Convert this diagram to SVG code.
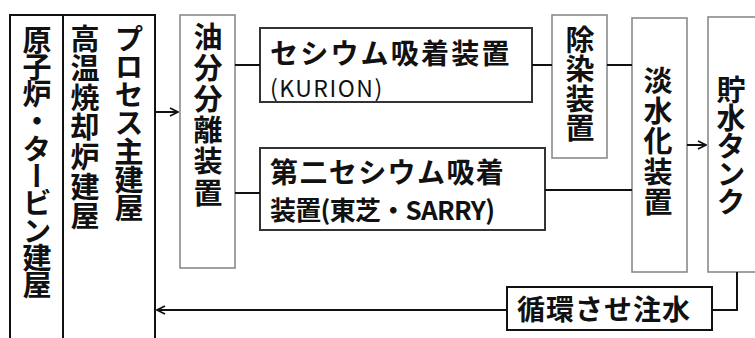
<svg xmlns="http://www.w3.org/2000/svg" width="755" height="338" viewBox="0 0 755 338">
<style>
.t{font-family:"Noto Sans CJK JP","Liberation Sans",sans-serif;fill:#111;font-weight:700}
.v{writing-mode:vertical-rl;text-orientation:upright;font-size:29px}
.r{font-weight:400}
.b{fill:#fff;stroke:#111;stroke-width:2}
.g{fill:#fff;stroke:#8a8a8a;stroke-width:1.6}
.c{fill:#fff;stroke:#333;stroke-width:2}
.ln{fill:none;stroke:#111;stroke-width:2}
</style>
<defs>
<marker id="ah" viewBox="0 0 10 10" refX="9" refY="5" markerWidth="10" markerHeight="10" markerUnits="userSpaceOnUse" orient="auto">
<path d="M1,1 L9,5 L1,9" fill="none" stroke="#111" stroke-width="1.8"/>
</marker>
</defs>
<rect width="755" height="338" fill="#fff"/>
<g id="reactor">
<rect class="b" x="10" y="15" width="53" height="330"/>
<text class="t v" x="37" y="25" style="letter-spacing:-1.7px">原子炉・タービン建屋</text>
</g>
<g id="process">
<rect class="b" x="63" y="15" width="92" height="330"/>
<text class="t v" x="85" y="24" style="letter-spacing:0.6px">高温焼却炉建屋</text>
<text class="t v" x="129" y="24" style="letter-spacing:-0.7px">プロセス主建屋</text>
</g>
<g id="oil">
<rect class="g" x="180" y="15" width="55" height="253"/>
<text class="t v" x="208" y="22" style="letter-spacing:2.2px">油分分離装置</text>
</g>
<g id="kurion">
<rect class="c" x="260" y="28" width="272" height="74"/>
<text class="t" x="270" y="64" font-size="28" style="letter-spacing:2.2px">セシウム吸着装置</text>
<text class="t r" x="270" y="97" font-size="23" style="letter-spacing:1.5px">(KURION)</text>
</g>
<g id="sarry">
<rect class="c" x="260" y="148" width="285" height="82"/>
<text class="t" x="270" y="183" font-size="28" style="letter-spacing:1.4px">第二セシウム吸着</text>
<text class="t" x="270" y="220" font-size="26" textLength="225" lengthAdjust="spacing">装置(東芝・SARRY)</text>
</g>
<g id="decon">
<rect class="g" x="552" y="15" width="55" height="143"/>
<text class="t v" x="580" y="25" style="letter-spacing:0.5px">除染装置</text>
</g>
<g id="desal">
<rect class="g" x="632" y="18" width="55" height="254"/>
<text class="t v" x="658" y="66" style="letter-spacing:1.4px">淡水化装置</text>
</g>
<g id="tank">
<rect class="g" x="708" y="17" width="60" height="255"/>
<text class="t v" x="731" y="75" style="letter-spacing:-1px">貯水タンク</text>
</g>
<g id="recirc">
<rect class="b" x="507" y="287" width="205" height="43"/>
<text class="t" x="517" y="320" font-size="28" style="letter-spacing:1px">循環させ注水</text>
</g>
<g id="connectors">
<line class="ln" x1="155" y1="112" x2="178" y2="112" marker-end="url(#ah)"/>
<line class="ln" x1="235" y1="65" x2="260" y2="65"/>
<line class="ln" x1="235" y1="193" x2="260" y2="193"/>
<line class="ln" x1="532" y1="65" x2="552" y2="65"/>
<line class="ln" x1="607" y1="65" x2="632" y2="65"/>
<line class="ln" x1="545" y1="190" x2="632" y2="190"/>
<line class="ln" x1="687" y1="145" x2="706" y2="145" marker-end="url(#ah)"/>
<polyline class="ln" points="737,272 737,310 712,310"/>
<line class="ln" x1="507" y1="310" x2="157" y2="310" marker-end="url(#ah)"/>
</g>
</svg>
